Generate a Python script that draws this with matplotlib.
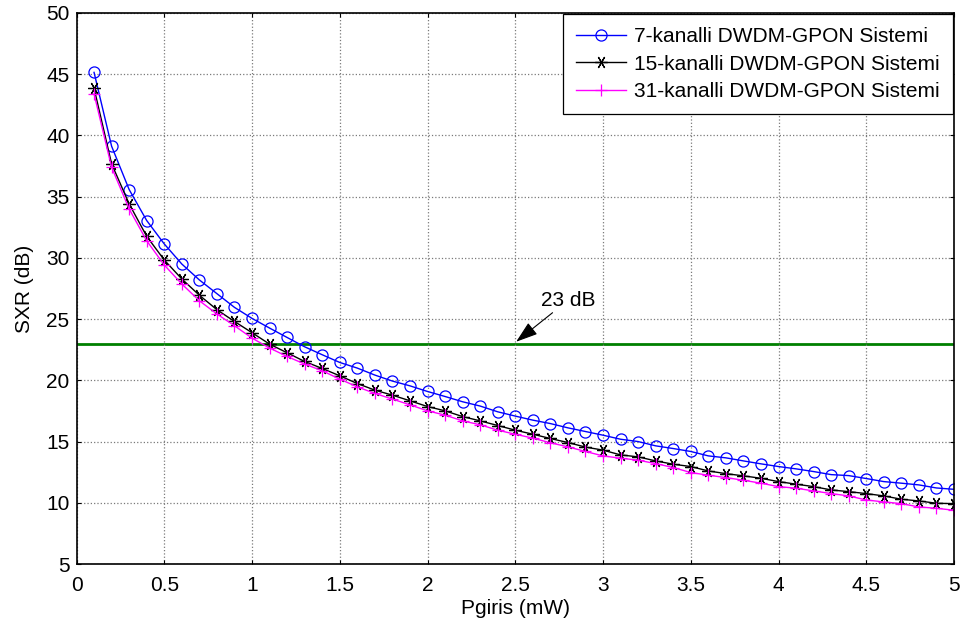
import matplotlib
matplotlib.use("Agg")
import matplotlib.pyplot as plt

plt.rcParams['font.family'] = ['Liberation Sans', 'DejaVu Sans']

p_giris = [0.1, 0.2, 0.3, 0.4, 0.5, 0.6, 0.7, 0.8, 0.9, 1.0,
           1.1, 1.2, 1.3, 1.4, 1.5, 1.6, 1.7, 1.8, 1.9, 2.0,
           2.1, 2.2, 2.3, 2.4, 2.5, 2.6, 2.7, 2.8, 2.9, 3.0,
           3.1, 3.2, 3.3, 3.4, 3.5, 3.6, 3.7, 3.8, 3.9, 4.0,
           4.1, 4.2, 4.3, 4.4, 4.5, 4.6, 4.7, 4.8, 4.9, 5.0]

sxr_7 = [45.15, 39.12, 35.58, 33.05, 31.14, 29.5, 28.2, 27.08, 25.96, 25.06,
         24.27, 23.5, 22.74, 22.09, 21.46, 21.0, 20.43, 19.94, 19.55, 19.09,
         18.68, 18.25, 17.9, 17.43, 17.08, 16.75, 16.47, 16.12, 15.82, 15.52,
         15.19, 15.0, 14.65, 14.43, 14.19, 13.83, 13.67, 13.42, 13.18, 12.96,
         12.77, 12.55, 12.3, 12.22, 11.98, 11.73, 11.6, 11.46, 11.21, 11.1]

sxr_15 = [43.86, 37.68, 34.41, 31.76, 29.83, 28.28, 26.95, 25.77, 24.81, 23.89,
          22.96, 22.25, 21.54, 20.97, 20.37, 19.74, 19.2, 18.79, 18.33, 17.86,
          17.51, 17.04, 16.69, 16.31, 15.93, 15.6, 15.25, 14.92, 14.55, 14.3,
          13.91, 13.75, 13.42, 13.15, 12.96, 12.6, 12.38, 12.2, 12.0, 11.73,
          11.52, 11.32, 11.05, 10.91, 10.75, 10.56, 10.29, 10.15, 9.96, 9.93]

sxr_31 = [43.4, 37.4, 34.0, 31.4, 29.42, 27.87, 26.5, 25.42, 24.46, 23.45,
          22.64, 21.95, 21.33, 20.78, 20.1, 19.47, 18.93, 18.47, 18.0, 17.51,
          17.16, 16.69, 16.37, 15.93, 15.6, 15.28, 14.9, 14.57, 14.19, 13.83,
          13.64, 13.48, 13.2, 12.88, 12.47, 12.25, 12.06, 11.84, 11.6, 11.32,
          11.19, 10.97, 10.75, 10.56, 10.23, 10.07, 9.93, 9.66, 9.55, 9.39]

threshold_db = 23
series_labels = ['7-kanalli DWDM-GPON Sistemi',
                 '15-kanalli DWDM-GPON Sistemi',
                 '31-kanalli DWDM-GPON Sistemi']
x_ticks = [0, 0.5, 1, 1.5, 2, 2.5, 3, 3.5, 4, 4.5, 5]
x_ticklabels = ['0', '0.5', '1', '1.5', '2', '2.5', '3', '3.5', '4', '4.5', '5']
y_ticks = [5, 10, 15, 20, 25, 30, 35, 40, 45, 50]

W, H = 967, 637
fig = plt.figure(figsize=(W / 100, H / 100), dpi=100)
L, R, T, B = 76.5, 954, 13, 564
ax = fig.add_axes([L / W, 1 - B / H, (R - L) / W, (B - T) / H])

ax.plot(p_giris, sxr_7, color='#0000FF', lw=1.0, marker='o', ms=8,
        mfc='none', mec='#0000FF', mew=0.9, label=series_labels[0])
ax.plot(p_giris, sxr_15, color='black', lw=1.0, marker=(6, 2, 90), ms=9,
        mec='black', mew=0.9, label=series_labels[1])
ax.plot(p_giris, sxr_31, color='#FF00FF', lw=1.0, marker='+', ms=9,
        mec='#FF00FF', mew=0.9, label=series_labels[2])
ax.axhline(threshold_db, color='#008000', lw=2.0, zorder=1)

ax.annotate('23 dB', xy=(2.505, 23.15), xytext=(2.645, 25.75),
            fontsize=15, ha='left', va='bottom',
            arrowprops=dict(arrowstyle='-|>,head_length=0.9,head_width=0.3',
                            color='black', lw=0.8, shrinkA=0, shrinkB=0))

ax.set_xlim(0, 5)
ax.set_ylim(5, 50)
ax.set_xticks(x_ticks)
ax.set_xticklabels(x_ticklabels)
ax.set_yticks(y_ticks)
ax.grid(True, color='#7a7a7a', ls=':', lw=0.9)
ax.tick_params(direction='in', length=3, width=0.8, top=True, right=True,
               labelsize=15)
ax.tick_params(axis='x', pad=8.5)
ax.tick_params(axis='y', pad=5)
for s in ax.spines.values():
    s.set_linewidth(1.2)

ax.set_xlabel('Pgiris (mW)', fontsize=15, labelpad=3)
ax.set_ylabel('SXR (dB)', fontsize=15, labelpad=9)

leg = ax.legend(loc='upper right', bbox_to_anchor=(1.0, 1.0), fontsize=15,
                fancybox=False, framealpha=1, edgecolor='black',
                borderaxespad=0.05, handlelength=2.4, handletextpad=0.4,
                labelspacing=0.42, borderpad=0.62)
leg.get_frame().set_linewidth(0.9)

fig.savefig('out.png', dpi=100)
